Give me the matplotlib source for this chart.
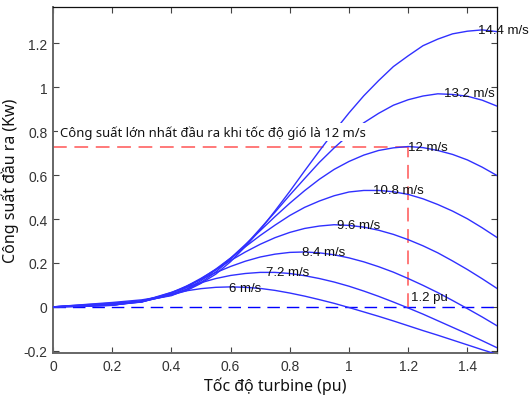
import numpy as np
import matplotlib
matplotlib.use('Agg')
from matplotlib import pyplot as plt

# turbine speed (pu)
speed = [0.0, 0.1, 0.2, 0.3, 0.4, 0.45, 0.5, 0.55, 0.6, 0.65, 0.7, 0.75, 0.8, 0.85, 0.9,
         0.95, 1.0, 1.05, 1.1, 1.15, 1.2, 1.25, 1.3, 1.35, 1.4, 1.45, 1.5]

# output power (pu) for each wind speed
p_6 = [0.0, 0.002, 0.007, 0.028, 0.059, 0.073, 0.083, 0.089, 0.091, 0.089, 0.084, 0.075, 0.063, 0.049,
       0.033, 0.016, -0.003, -0.023, -0.043, -0.064, -0.086, -0.108, -0.129, -0.151, -0.173, -0.195, -0.216]
p_72 = [0.0, 0.003, 0.007, 0.026, 0.066, 0.089, 0.110, 0.129, 0.143, 0.152, 0.157, 0.157, 0.152, 0.142,
        0.129, 0.113, 0.094, 0.072, 0.048, 0.022, -0.005, -0.033, -0.063, -0.093, -0.123, -0.154, -0.186]
p_84 = [0.0, 0.003, 0.008, 0.023, 0.065, 0.094, 0.125, 0.156, 0.184, 0.208, 0.227, 0.240, 0.248, 0.250,
        0.246, 0.237, 0.223, 0.205, 0.183, 0.158, 0.129, 0.098, 0.065, 0.029, -0.008, -0.046, -0.086]
p_96 = [0.0, 0.005, 0.009, 0.022, 0.061, 0.093, 0.130, 0.170, 0.211, 0.250, 0.285, 0.315, 0.339, 0.357,
        0.368, 0.374, 0.371, 0.363, 0.349, 0.330, 0.306, 0.278, 0.246, 0.209, 0.170, 0.128, 0.084]
p_108 = [0.0, 0.006, 0.011, 0.023, 0.055, 0.087, 0.127, 0.172, 0.222, 0.274, 0.325, 0.372, 0.416, 0.453,
         0.482, 0.506, 0.523, 0.530, 0.530, 0.524, 0.512, 0.492, 0.466, 0.436, 0.401, 0.360, 0.316]
p_12 = [0.0, 0.007, 0.014, 0.024, 0.054, 0.080, 0.119, 0.168, 0.222, 0.284, 0.347, 0.411, 0.472, 0.529,
        0.581, 0.626, 0.662, 0.691, 0.712, 0.724, 0.730, 0.725, 0.712, 0.694, 0.669, 0.636, 0.598]
p_132 = [0.0, 0.009, 0.017, 0.027, 0.051, 0.078, 0.111, 0.159, 0.217, 0.281, 0.356, 0.431, 0.509, 0.584,
         0.658, 0.724, 0.784, 0.838, 0.881, 0.918, 0.943, 0.960, 0.970, 0.967, 0.959, 0.941, 0.914]
p_144 = [0.0, 0.010, 0.020, 0.032, 0.054, 0.073, 0.107, 0.149, 0.206, 0.275, 0.351, 0.437, 0.526, 0.619,
         0.710, 0.799, 0.883, 0.961, 1.030, 1.094, 1.143, 1.189, 1.219, 1.243, 1.255, 1.261, 1.253]

curves = [p_6, p_72, p_84, p_96, p_108, p_12, p_132, p_144]
wind_labels = ['6 m/s', '7.2 m/s', '8.4 m/s', '9.6 m/s', '10.8 m/s', '12 m/s', '13.2 m/s', '14.4 m/s']
label_x = [0.595, 0.72, 0.84, 0.96, 1.08, 1.2, 1.32, 1.437]
label_y = [0.087, 0.158, 0.25, 0.374, 0.532, 0.73, 0.972, 1.262]

# max power point at 12 m/s
max_speed = 1.2
max_power = 0.73

x_ticks = [0, 0.2, 0.4, 0.6, 0.8, 1.0, 1.2, 1.4]
x_ticklabels = ['0', '0.2', '0.4', '0.6', '0.8', '1', '1.2', '1.4']
y_ticks = [-0.2, 0, 0.2, 0.4, 0.6, 0.8, 1.0, 1.2]
y_ticklabels = ['-0.2', '0', '0.2', '0.4', '0.6', '0.8', '1', '1.2']

tick_font = ['Liberation Sans Narrow', 'Liberation Sans', 'DejaVu Sans']
label_font = ['Liberation Sans', 'DejaVu Sans']
text_font = ['Noto Sans', 'DejaVu Sans']

fig = plt.figure(figsize=(5.32, 4.02), dpi=100)
ax = fig.add_axes([0.0996, 0.1194, 0.8346, 0.8606])

blue = '#3030ff'
for p in curves:
    ax.plot(speed, p, color=blue, lw=1.0, zorder=3)

# zero line
ax.plot([0, 1.5], [0, 0], color='#0000ff', lw=1.0, dashes=(9, 5), zorder=2)

# max power guide lines
red = '#ff5555'
ax.plot([0, max_speed], [max_power, max_power], color=red, lw=1.1, dashes=(9, 5), zorder=2)
ax.plot([max_speed, max_speed], [0, max_power], color=red, lw=1.1, dashes=(9, 5), zorder=2)

for lx, ly, lab in zip(label_x, label_y, wind_labels):
    ax.text(lx, ly, lab, ha='left', va='center', fontsize=9.5, family=label_font,
            color='#111111', zorder=5, clip_on=False)

ax.text(1.21, 0.047, '1.2 pu', ha='left', va='center', fontsize=9.5,
        family=label_font, color='#111111', zorder=5)

ax.text(0.024, 0.797, 'Công suất lớn nhất đầu ra khi tốc độ gió là 12 m/s', ha='left', va='center',
        fontsize=9.4, family=text_font, color='#111111', zorder=6,
        bbox=dict(facecolor='white', edgecolor='none', pad=1.5))

ax.set_xlim(0, 1.5)
ax.set_ylim(-0.21, 1.365)
ax.set_xticks(x_ticks)
ax.set_xticklabels(x_ticklabels, family=tick_font, fontsize=10, color='#333333')
ax.set_yticks(y_ticks)
ax.set_yticklabels(y_ticklabels, family=tick_font, fontsize=10, color='#333333')
ax.tick_params(direction='in', top=True, right=True, length=4, width=0.8, colors='#444444',
               labelcolor='#333333', pad=4)

ax.spines['left'].set_color('#666666')
ax.spines['bottom'].set_color('#666666')
ax.spines['left'].set_linewidth(1.4)
ax.spines['bottom'].set_linewidth(1.4)
ax.spines['top'].set_color('#111111')
ax.spines['right'].set_color('#111111')
ax.spines['top'].set_linewidth(0.9)
ax.spines['right'].set_linewidth(0.9)

ax.set_xlabel('Tốc độ turbine (pu)', family=text_font, fontsize=11.5, color='#111111', labelpad=3)
ax.set_ylabel('Công suất đầu ra (Kw)', family=text_font, fontsize=11.5, color='#111111', labelpad=3)

fig.savefig('out.png', dpi=100)
